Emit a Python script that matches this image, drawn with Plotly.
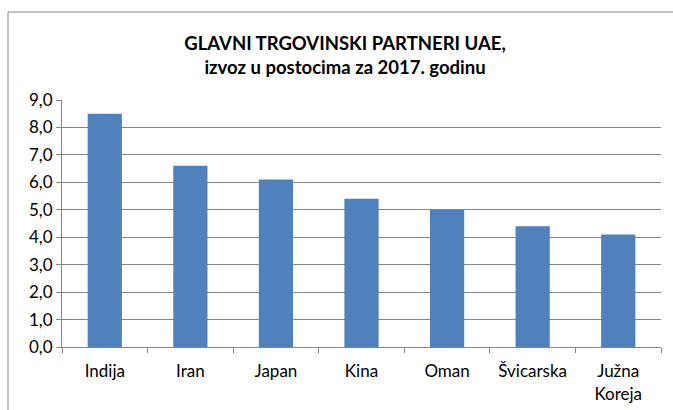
import plotly.graph_objects as go

categories = ["Indija", "Iran", "Japan", "Kina", "Oman", "Švicarska", "Južna<br>Koreja"]
values = [8.5, 6.6, 6.1, 5.4, 5.0, 4.4, 4.1]
y_ticks = [0, 1, 2, 3, 4, 5, 6, 7, 8, 9]
y_tick_labels = ["0,0", "1,0", "2,0", "3,0", "4,0", "5,0", "6,0", "7,0", "8,0", "9,0"]

W, H = 673, 410
L, R, T, B = 62, 12, 100, 63
pw = W - L - R
ph = H - T - B

FONT = "Lato, Open Sans, sans-serif"

fig = go.Figure(go.Bar(x=categories, y=values, marker_color="#4F81BD",
                       marker_line_width=0))

def px_x(x):
    return (x - L) / pw

def px_y(y):
    return (H - B - y) / ph

fig.add_shape(type="rect", xref="paper", yref="paper",
              x0=px_x(8), x1=px_x(700), y0=px_y(450), y1=px_y(12),
              line=dict(color="#868686", width=1), layer="below")

fig.update_layout(
    width=W, height=H,
    margin=dict(l=L, r=R, t=T, b=B, autoexpand=False),
    paper_bgcolor="white", plot_bgcolor="white",
    bargap=0.6,
    showlegend=False,
    font=dict(family=FONT, size=17, color="#000000"),
    title=dict(text="<b>GLAVNI TRGOVINSKI PARTNERI UAE,<br>izvoz u postocima za 2017. godinu</b>",
               x=345 / W, xanchor="center", y=1 - 50 / H, yanchor="middle",
               font=dict(size=18.5, family=FONT, color="#000000")),
    xaxis=dict(showline=True, linecolor="#868686", linewidth=1,
               ticks="outside", ticklen=5, tickcolor="#868686",
               tickson="boundaries", showgrid=False, fixedrange=True,
               ticklabelstandoff=9, automargin=False,
               tickfont=dict(size=17)),
    yaxis=dict(range=[0, 9], tickvals=y_ticks, ticktext=y_tick_labels,
               showline=True, linecolor="#868686", linewidth=1,
               ticks="outside", ticklen=5, tickcolor="#868686",
               showgrid=True, gridcolor="#868686", gridwidth=1,
               zeroline=False, fixedrange=True, automargin=False,
               tickfont=dict(size=17)),
)

fig.write_html("out.html", config={"displayModeBar": False},
               post_script="document.body.style.margin='0';")
